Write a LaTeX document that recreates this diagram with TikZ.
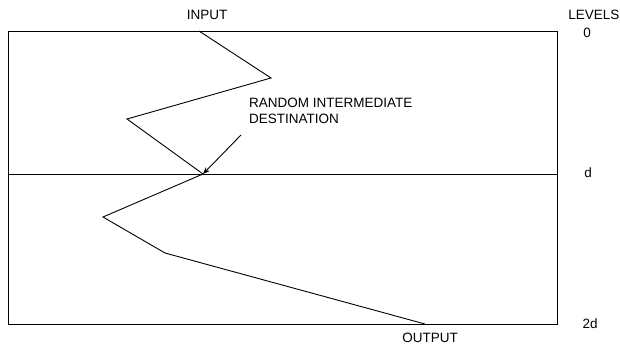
\documentclass[tikz,border=0pt]{standalone}
\usepackage{fontspec}
\setmainfont{Liberation Sans}
\usetikzlibrary{arrows.meta}
\begin{document}
\begin{tikzpicture}[x=1pt,y=-1pt,
  line/.style={line width=0.9pt,black},
  lbl/.style={inner sep=0pt,font=\fontsize{13.5}{16}\selectfont},
  lvl/.style={inner sep=0pt,font=\fontsize{13.5}{16}\selectfont}]
\useasboundingbox (0,0) rectangle (620,347);
% frame
\coordinate (tl) at (8,31);
\coordinate (br) at (557,324);
\coordinate (ml) at (8,174);
\coordinate (mr) at (557,174);
\draw[line] (tl) rectangle (br);
\draw[line] (ml) -- (mr);
% route
\coordinate (p0) at (199,31);
\coordinate (p1) at (271,78);
\coordinate (p2) at (127,119);
\coordinate (p3) at (203,174);
\coordinate (p4) at (103,217);
\coordinate (p5) at (165,253);
\coordinate (p6) at (425,324);
\draw[line,line join=miter] (p0) -- (p1) -- (p2) -- (p3) -- (p4) -- (p5) -- (p6);
% labels
\node[lbl,anchor=base] (input) at (207,20) {INPUT};
\node[lbl,anchor=base] (output) at (430,342.5) {OUTPUT};
\node[lbl,anchor=base west,align=left] (rid) at (249,124) {RANDOM INTERMEDIATE\\DESTINATION};
\coordinate (as) at (241,135);
\draw[line,-{Stealth[length=7pt,width=5.5pt]}] (as) -- (p3);
% levels
\node[lvl,anchor=base east] (levels) at (619.5,20) {LEVELS};
\node[lvl,anchor=base] (l0) at (587,38) {0};
\node[lvl,anchor=base] (ld) at (588,178) {d};
\node[lvl,anchor=base] (l2d) at (590,328) {2d};
\end{tikzpicture}
\end{document}
